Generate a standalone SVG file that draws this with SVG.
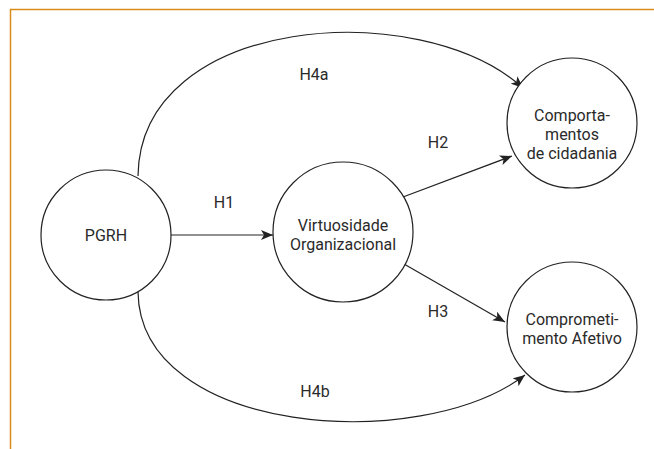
<svg xmlns="http://www.w3.org/2000/svg" width="654" height="449" viewBox="0 0 654 449">
<style>
.node circle{fill:#fff;stroke:#222;stroke-width:1.2}
.node text,.lbl{font-family:Roboto,"Open Sans",sans-serif;font-size:16px;fill:#2a2a2a;text-anchor:middle}
.edge{fill:none;stroke:#222;stroke-width:1.2;marker-end:url(#ah)}
</style>
<defs>
<marker id="ah" viewBox="0 0 12 10" refX="12" refY="5" markerWidth="12" markerHeight="10" markerUnits="userSpaceOnUse" orient="auto">
<path d="M0,0 L12,5 L0,10 L3,5 Z" fill="#222"/>
</marker>
</defs>
<rect width="654" height="449" fill="#fff"/>
<path d="M10.5,449 V9.5 H654" fill="none" stroke="#d98c1a" stroke-width="1.5"/>
<g id="connectors">
<path class="edge" d="M171,235 H273"/>
<path class="edge" d="M403,197 L512,156"/>
<path class="edge" d="M404,264 L505,322"/>
<path class="edge" d="M138,176 C140,15 420,-5 523,88"/>
<path class="edge" d="M138,292 C140,435 420,455 525,375"/>
<text class="lbl" x="224" y="208">H1</text>
<text class="lbl" x="438" y="148">H2</text>
<text class="lbl" x="438" y="317">H3</text>
<text class="lbl" x="314" y="80">H4a</text>
<text class="lbl" x="315" y="397">H4b</text>
</g>
<g id="pgrh" class="node">
<circle cx="106" cy="235" r="65"/>
<text x="106" y="241">PGRH</text>
</g>
<g id="virtuosidade" class="node">
<circle cx="343" cy="232" r="70"/>
<text x="343" y="231">Virtuosidade</text>
<text x="343" y="250">Organizacional</text>
</g>
<g id="comportamentos" class="node">
<circle cx="572" cy="123" r="65"/>
<text x="572" y="121">Comporta-</text>
<text x="572" y="140">mentos</text>
<text x="572" y="159">de cidadania</text>
</g>
<g id="comprometimento" class="node">
<circle cx="572" cy="327" r="65"/>
<text x="572" y="325">Comprometi-</text>
<text x="572" y="344">mento Afetivo</text>
</g>
</svg>
